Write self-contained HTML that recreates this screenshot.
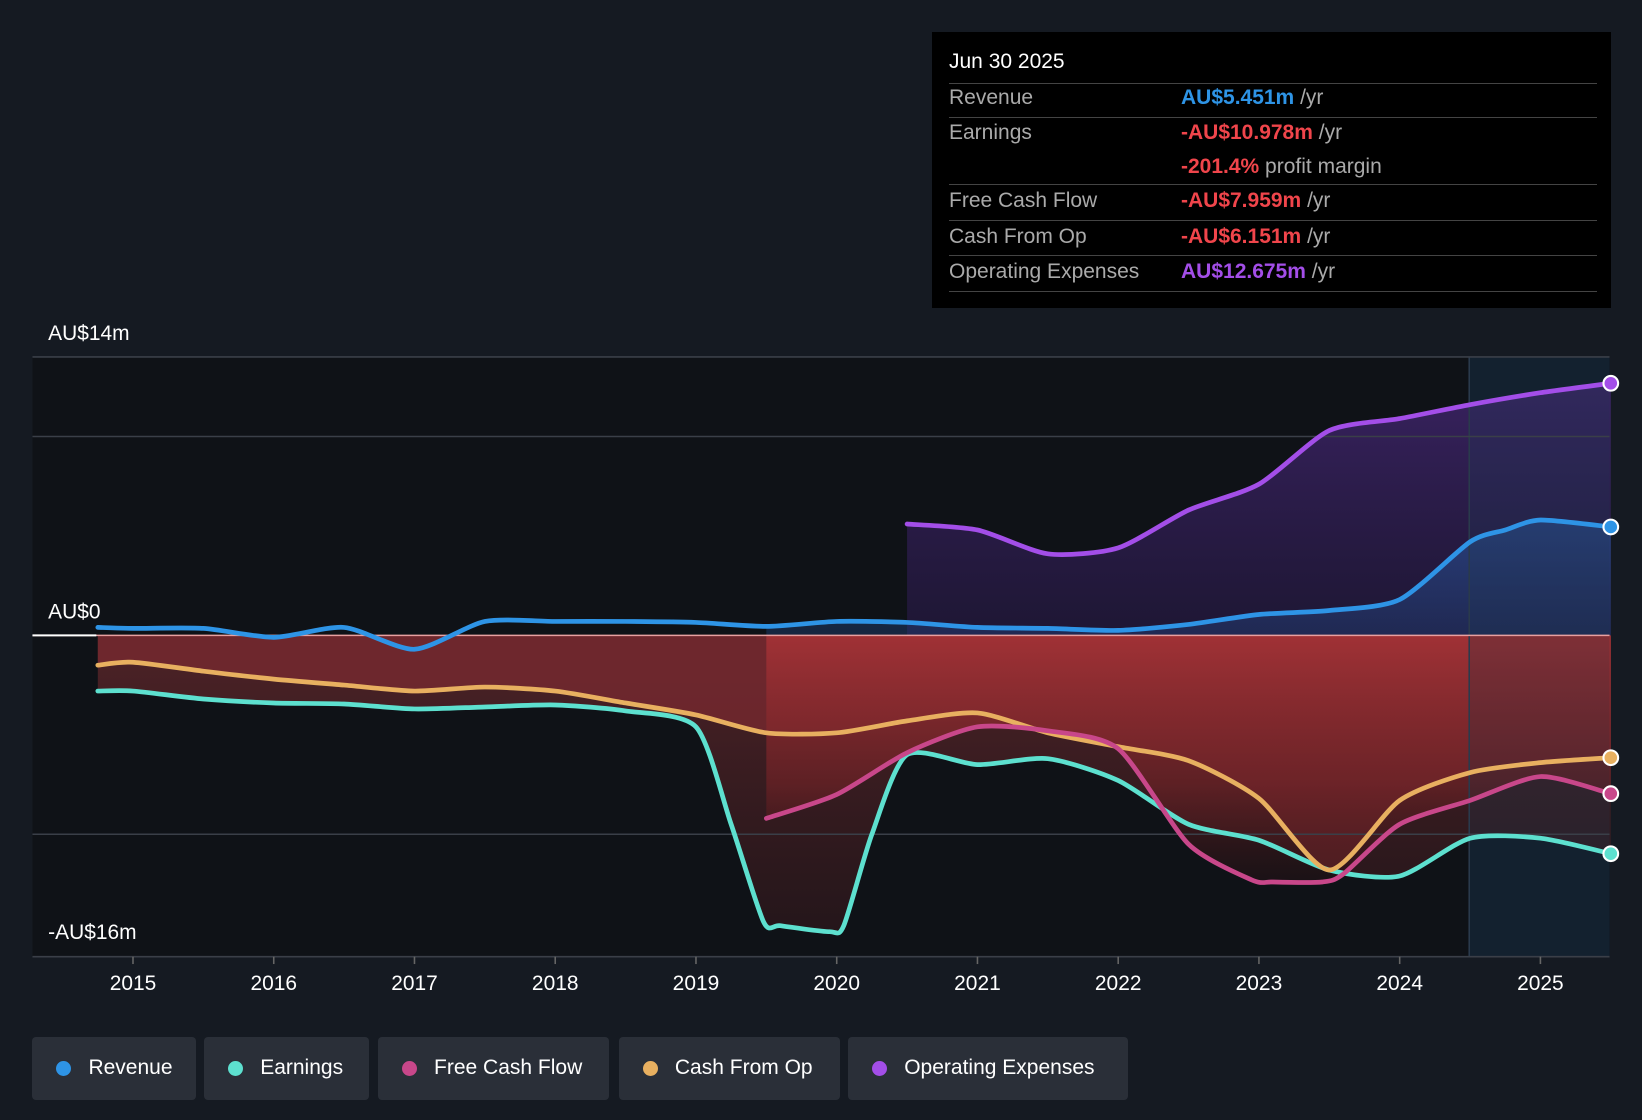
<!DOCTYPE html>
<html><head><meta charset="utf-8"><style>
html,body{margin:0;padding:0;background:#151a22;}
body{width:1642px;height:1120px;overflow:hidden;font-family:"Liberation Sans",sans-serif;}
svg{display:block}
</style></head><body>
<svg id="chart" width="1642" height="1120" viewBox="0 0 1568 1070" preserveAspectRatio="none" xmlns="http://www.w3.org/2000/svg">
<defs>
<linearGradient id="gPurple" x1="0" y1="0" x2="0" y2="1"><stop offset="0" stop-color="#5a2f9a" stop-opacity="0.55"/><stop offset="1" stop-color="#3a1f6a" stop-opacity="0.35"/></linearGradient>
<linearGradient id="gBlue" x1="0" y1="0" x2="0" y2="1"><stop offset="0" stop-color="#2a6cc0" stop-opacity="0.45"/><stop offset="1" stop-color="#234a8a" stop-opacity="0.35"/></linearGradient>
<linearGradient id="gRed" x1="0" y1="0" x2="0" y2="1"><stop offset="0" stop-color="#a33236" stop-opacity="0.95"/><stop offset="0.6" stop-color="#6e2226" stop-opacity="0.7"/><stop offset="1" stop-color="#2a1214" stop-opacity="0.4"/></linearGradient>
<linearGradient id="gRedDark" x1="0" y1="0" x2="0" y2="1"><stop offset="0" stop-color="#6a2a2e" stop-opacity="0.7"/><stop offset="1" stop-color="#3a1a1e" stop-opacity="0.5"/></linearGradient>
</defs>
<rect x="31" y="341" width="1506" height="573" fill="#0f1217"/>
<rect x="1403" y="341" width="134" height="573" fill="#12202e" opacity="0.9"/>
<g id="areas"></g>
<g id="grid"></g>
<g id="lines"></g>
<g id="axis"></g>
</svg>

<div style="position:absolute;left:932px;top:32px;width:679px;height:276px;background:#000;color:#fff;font-size:21px;">
<div style="position:absolute;left:17px;top:18px;font-size:21px;">Jun 30 2025</div>
<div id="rows"></div>
</div>

<div id="legend" style="position:absolute;left:0;top:1037px;height:63px;width:1642px;"></div>

<script>
const years = [2015,2016,2017,2018,2019,2020,2021,2022,2023,2024,2025];
const revX = [2014.75,2015,2015.5,2016,2016.5,2017,2017.5,2018,2018.5,2019,2019.5,2020,2020.5,2021,2021.5,2022,2022.5,2023,2023.5,2024,2024.5,2024.75,2025,2025.5];
const revenue = [0.4,0.35,0.35,-0.1,0.4,-0.7,0.7,0.7,0.7,0.65,0.45,0.7,0.65,0.4,0.35,0.25,0.55,1.05,1.25,1.8,4.7,5.3,5.8,5.451];
const opxX = [2020.5,2021,2021.5,2022,2022.5,2023,2023.5,2024,2024.5,2025,2025.5];
const opex = [5.6,5.3,4.1,4.4,6.3,7.6,10.3,10.9,11.6,12.2,12.675];
const earnX = [2014.75,2015,2015.5,2016,2016.5,2017,2017.5,2018,2018.5,2019,2019.25,2019.48,2019.6,2019.95,2020.05,2020.25,2020.5,2021,2021.5,2022,2022.5,2023,2023.5,2024,2024.5,2025,2025.5];
const earnings = [-2.8,-2.8,-3.2,-3.4,-3.45,-3.7,-3.6,-3.5,-3.8,-4.6,-9.5,-14.4,-14.6,-14.9,-14.6,-10,-6.0,-6.5,-6.2,-7.3,-9.5,-10.3,-11.8,-12.1,-10.2,-10.2,-10.978];
const fcfX = [2019.5,2020,2020.5,2021,2021.5,2022,2022.5,2022.95,2023.1,2023.45,2023.6,2024,2024.5,2025,2025.5];
const fcf = [-9.2,-8.0,-5.9,-4.6,-4.8,-5.7,-10.5,-12.3,-12.4,-12.4,-12.0,-9.5,-8.3,-7.1,-7.959];
const cfoX = [2014.75,2015,2015.5,2016,2016.5,2017,2017.5,2018,2018.5,2019,2019.5,2020,2020.5,2021,2021.5,2022,2022.5,2023,2023.5,2024,2024.5,2025,2025.5];
const cfo = [-1.5,-1.35,-1.8,-2.2,-2.5,-2.8,-2.6,-2.8,-3.4,-4.0,-4.9,-4.9,-4.3,-3.9,-4.9,-5.6,-6.3,-8.2,-11.8,-8.3,-6.9,-6.4,-6.151];
const yTicks = [14,0,-16];
const yTickLabels = ["AU$14m","AU$0","-AU$16m"];
const gridVals = [14,10,-10];

const NS="http://www.w3.org/2000/svg";
const X = y => 127 + (y-2015)*134.4;
const Y = v => 607 - v*19;
function mk(tag,attrs,parent){const e=document.createElementNS(NS,tag);for(const k in attrs)e.setAttribute(k,attrs[k]);parent.appendChild(e);return e;}
function pts(xs,vs){return xs.map((x,i)=>[X(x),Y(vs[i])]);}
function smooth(p){let d=`M${p[0][0]},${p[0][1]}`;for(let i=0;i<p.length-1;i++){const p0=p[i-1]||p[i],p1=p[i],p2=p[i+1],p3=p[i+2]||p2;const t=0.12;
const c1=[p1[0]+(p2[0]-p0[0])*t,p1[1]+(p2[1]-p0[1])*t],c2=[p2[0]-(p3[0]-p1[0])*t,p2[1]-(p3[1]-p1[1])*t];d+=`C${c1[0]},${c1[1]} ${c2[0]},${c2[1]} ${p2[0]},${p2[1]}`;}return d;}
function area(p){const s=smooth(p);return s+`L${p[p.length-1][0]},${Y(0)}L${p[0][0]},${Y(0)}Z`;}

const areas=document.getElementById('areas'),grid=document.getElementById('grid'),lines=document.getElementById('lines'),axis=document.getElementById('axis');
let a;
a=mk('path',{d:area(pts(earnX,earnings)),fill:'url(#gRedDark)'},areas);

a=mk('path',{d:area(pts(cfoX,cfo)),fill:'#7a2a30',opacity:'0.75'},areas);

a=mk('path',{d:area(pts(fcfX,fcf)),fill:'url(#gRed)'},areas);

a=mk('path',{d:area(pts(opxX,opex)),fill:'url(#gPurple)'},areas);

a=mk('path',{d:area(pts(revX.slice(10),revenue.slice(10))),fill:'url(#gBlue)'},areas);

mk('rect',{x:1403,y:341,width:134,height:573,fill:'#1a2a3a',opacity:'0.25'},areas);
mk('line',{x1:1403,y1:341,x2:1403,y2:914,stroke:'#2a3a4c','stroke-width':1.5},areas);

gridVals.forEach(v=>{const l=mk('line',{x1:31,x2:1537,y1:Y(v),y2:Y(v),stroke:'#3a3f48','stroke-width':1.5},grid);
});
const zl=mk('line',{x1:31,x2:1537,y1:Y(0),y2:Y(0),stroke:'#e8a0a0','stroke-width':1.5},grid);

mk('line',{x1:31,x2:92,y1:Y(0),y2:Y(0),stroke:'#ffffff','stroke-width':2},grid);

const series=[
 ['earnings-line',earnX,earnings,'#5de0cf'],
 ['cash-from-op-line',cfoX,cfo,'#e8b060'],
 ['free-cash-flow-line',fcfX,fcf,'#c8478a'],
 ['revenue-line',revX,revenue,'#2e94e6'],
 ['opex-line',opxX,opex,'#a34ee8']];
series.forEach(s=>{const p=pts(s[1],s[2]);
 const l=mk('path',{d:smooth(p),fill:'none',stroke:s[3],'stroke-width':4.5,'stroke-linejoin':'round','stroke-linecap':'round'},lines);
 
 const last=p[p.length-1];
 const c=mk('circle',{cx:last[0],cy:last[1],r:7,fill:s[3],stroke:'#fff','stroke-width':2},lines);
 });

mk('line',{x1:31,x2:1537,y1:914,y2:914,stroke:'#3a3f48','stroke-width':1.5},axis);
years.forEach(y=>{mk('line',{x1:X(y),x2:X(y),y1:914,y2:921,stroke:'#666','stroke-width':1.5},axis);
 const t=mk('text',{x:X(y),y:946,fill:'#fff','font-size':20,'text-anchor':'middle','font-family':'Liberation Sans, sans-serif'},axis);
 t.textContent=y;});
yTicks.forEach((v,i)=>{const t=mk('text',{x:46,y:Y(v)-16,fill:'#fff','font-size':20,'font-family':'Liberation Sans, sans-serif'},axis);
 t.textContent=yTickLabels[i];});
axis.lastChild.setAttribute('y',897);

const rows=[['Revenue','AU$5.451m','#2e94e6',' /yr',94],['Earnings','-AU$10.978m','#f0454b',' /yr',127],['','-201.4%','#f0454b',' profit margin',160],['Free Cash Flow','-AU$7.959m','#f0454b',' /yr',192],['Cash From Op','-AU$6.151m','#f0454b',' /yr',227],['Operating Expenses','AU$12.675m','#a34ee8',' /yr',260]];
const rc=document.getElementById('rows');
const sepY=[80,112,176,211,244,278];
sepY.forEach(y=>{const d=document.createElement('div');d.style.cssText=`position:absolute;left:17px;width:648px;top:${(y-31)*1.047}px;height:1px;background:#444;`;
 rc.appendChild(d);});
rows.forEach(r=>{const top=(r[4]-31)*1.047-12;
 const l=document.createElement('div');l.style.cssText=`position:absolute;left:17px;top:${top}px;color:#aaa;font-size:21px;`;l.textContent=r[0];
 rc.appendChild(l);
 const v=document.createElement('div');v.style.cssText=`position:absolute;left:249px;top:${top}px;font-size:21px;color:#aaa;white-space:nowrap;`;
 v.innerHTML=`<b style="color:${r[2]}">${r[1]}</b>${r[3]}`;
 rc.appendChild(v);});

const leg=[['Revenue','#2e94e6',31,187],['Earnings','#5de0cf',195,352],['Free Cash Flow','#c8478a',361,582],['Cash From Op','#e8b060',591,802],['Operating Expenses','#a34ee8',810,1077]];
const lg=document.getElementById('legend');
leg.forEach(e=>{const d=document.createElement('div');const l=e[2]*1.0472,w=(e[3]-e[2])*1.0472;
 d.style.cssText=`position:absolute;left:${l}px;top:0;width:${w}px;height:63px;background:#2a2f38;border-radius:4px;color:#fff;font-size:21px;`;
 d.innerHTML=`<span style="position:absolute;left:24px;top:24px;width:15px;height:15px;border-radius:50%;background:${e[1]}"></span><span style="position:absolute;left:56px;top:19px;">${e[0]}</span>`;
 lg.appendChild(d);});
</script>
</body></html>
